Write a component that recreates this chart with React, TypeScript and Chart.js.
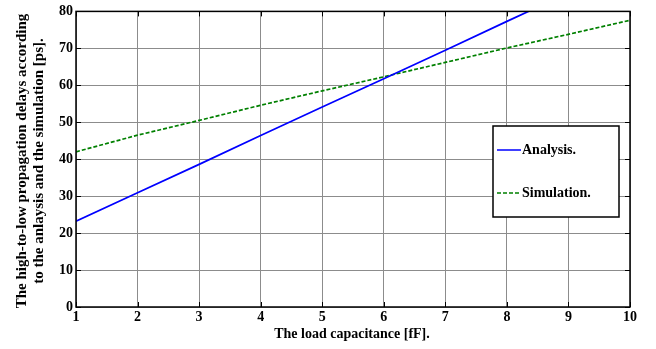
import React, { useEffect, useRef } from "react";
import { Chart, registerables } from "chart.js";

Chart.register(...registerables);

const loadCapacitance = [1, 2, 3, 4, 5, 6, 7, 8, 9, 10];
const analysisDelay = [23.2, 30.9, 38.6, 46.4, 54.1, 61.8, 69.5, 77.3, 85.0, 92.7];
const simulationDelay = [42.0, 46.5, 50.5, 54.6, 58.5, 62.3, 66.2, 70.1, 73.8, 77.6];

const seriesLabels = ["Analysis.", "Simulation."];
const xTitle = "The load capacitance [fF].";
const yTitle = [
  "The high-to-low propagation delays according",
  "to the anlaysis and the simulation [ps].",
];

const FONT = "'Liberation Serif', 'Times New Roman', serif";

const framePlugin = {
  id: "frame",
  afterDatasetsDraw(chart: any) {
    const { ctx, chartArea: a, scales } = chart;
    ctx.save();
    // inward tick marks on all four sides
    ctx.strokeStyle = "#000";
    ctx.lineWidth = 1;
    const tl = 5;
    scales.x.ticks.forEach((t: any) => {
      const px = Math.round(scales.x.getPixelForValue(t.value)) + 0.5;
      ctx.beginPath();
      ctx.moveTo(px, a.bottom);
      ctx.lineTo(px, a.bottom - tl);
      ctx.moveTo(px, a.top);
      ctx.lineTo(px, a.top + tl);
      ctx.stroke();
    });
    scales.y.ticks.forEach((t: any) => {
      const py = Math.round(scales.y.getPixelForValue(t.value)) + 0.5;
      ctx.beginPath();
      ctx.moveTo(a.left, py);
      ctx.lineTo(a.left + tl, py);
      ctx.moveTo(a.right, py);
      ctx.lineTo(a.right - tl, py);
      ctx.stroke();
    });
    // plot frame
    ctx.lineWidth = 1.5;
    ctx.strokeRect(a.left, a.top, a.right - a.left, a.bottom - a.top);

    // legend box
    const bx = 493, by = 126, bw = 126, bh = 91;
    ctx.fillStyle = "#fff";
    ctx.fillRect(bx, by, bw, bh);
    ctx.lineWidth = 1.5;
    ctx.strokeRect(bx, by, bw, bh);
    const entries = [
      { y: 150, color: "#0000ff", dash: [] as number[] },
      { y: 193, color: "#008000", dash: [4, 2] },
    ];
    entries.forEach((e, i) => {
      ctx.strokeStyle = e.color;
      ctx.lineWidth = 1.5;
      ctx.setLineDash(e.dash);
      ctx.beginPath();
      ctx.moveTo(497, e.y);
      ctx.lineTo(521, e.y);
      ctx.stroke();
      ctx.setLineDash([]);
      ctx.fillStyle = "#000";
      ctx.font = `bold 14px ${FONT}`;
      ctx.textAlign = "left";
      ctx.textBaseline = "middle";
      ctx.fillText(seriesLabels[i], 522, e.y);
    });

    // axis titles
    ctx.fillStyle = "#000";
    ctx.font = `bold 14px ${FONT}`;
    ctx.textAlign = "center";
    ctx.textBaseline = "middle";
    ctx.fillText(xTitle, (a.left + a.right) / 2 - 1, 334);
    ctx.save();
    ctx.font = `bold 15px ${FONT}`;
    ctx.translate(22, 161);
    ctx.rotate(-Math.PI / 2);
    ctx.fillText(yTitle[0], 0, 0);
    ctx.fillText(yTitle[1], 0, 17);
    ctx.restore();
    ctx.restore();
  },
};

export default function App() {
  const ref = useRef<HTMLCanvasElement>(null);

  useEffect(() => {
    document.body.style.margin = "0";
    const chart = new Chart(ref.current!, {
      type: "line",
      data: {
        labels: loadCapacitance,
        datasets: [
          {
            label: seriesLabels[0],
            data: loadCapacitance.map((x, i) => ({ x, y: analysisDelay[i] })),
            borderColor: "#0000ff",
            borderWidth: 1.7,
            pointRadius: 0,
            tension: 0,
          },
          {
            label: seriesLabels[1],
            data: loadCapacitance.map((x, i) => ({ x, y: simulationDelay[i] })),
            borderColor: "#008000",
            borderWidth: 1.7,
            borderDash: [4, 2],
            pointRadius: 0,
            tension: 0,
          },
        ],
      },
      options: {
        animation: false,
        responsive: false,
        layout: { padding: { top: 8, right: 26, left: 0, bottom: 0 } },
        plugins: { legend: { display: false }, tooltip: { enabled: false } },
        scales: {
          x: {
            type: "linear",
            min: 1,
            max: 10,
            ticks: {
              stepSize: 1,
              color: "#000",
              padding: 2,
              font: { family: FONT, weight: "bold", size: 14 },
            },
            grid: { color: "#8c8c8c", lineWidth: 1, drawTicks: false },
            border: { display: false },
            afterFit(scale: any) {
              scale.height = 42;
            },
          },
          y: {
            min: 0,
            max: 80,
            ticks: {
              stepSize: 10,
              color: "#000",
              padding: 3,
              font: { family: FONT, weight: "bold", size: 14 },
            },
            grid: { color: "#8c8c8c", lineWidth: 1, drawTicks: false },
            border: { display: false },
            afterFit(scale: any) {
              scale.width = 76;
            },
          },
        },
      },
      plugins: [framePlugin],
    });
    return () => chart.destroy();
  }, []);

  return (
    <div style={{ position: "fixed", left: 0, top: 0, width: 656, height: 349, background: "#fff" }}>
      <canvas ref={ref} width={656} height={349} />
    </div>
  );
}
